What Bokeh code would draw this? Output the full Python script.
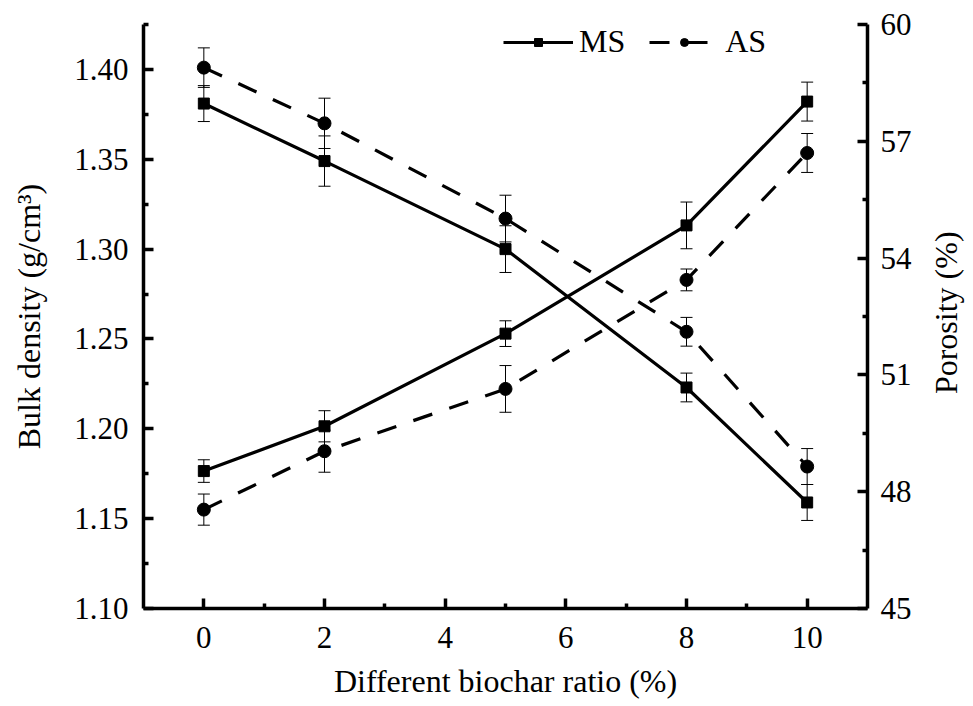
import math
from bokeh.plotting import figure
from bokeh.layouts import row
from bokeh.models import (Range1d, LinearAxis, FixedTicker, PrintfTickFormatter, Whisker,
                          ColumnDataSource, Legend, LegendItem, TeeHead, Label)
from bokeh.embed import file_html
from bokeh.resources import INLINE

# ---- data ----
ratio = [0, 2, 5, 8, 10]
bd_ms = [1.381, 1.349, 1.300, 1.223, 1.159]
bd_ms_err = [0.010, 0.014, 0.013, 0.008, 0.010]
bd_as = [1.401, 1.370, 1.317, 1.254, 1.179]
bd_as_err = [0.011, 0.014, 0.013, 0.008, 0.010]
por_ms = [48.53, 49.68, 52.06, 54.84, 58.02]
por_ms_err = [0.29, 0.40, 0.33, 0.60, 0.50]
por_as = [47.54, 49.04, 50.64, 53.44, 56.70]
por_as_err = [0.40, 0.54, 0.60, 0.28, 0.50]

x_ticks = [0, 2, 4, 6, 8, 10]
x_minor = [1, 3, 5, 7, 9]
bd_ticks = [1.10, 1.15, 1.20, 1.25, 1.30, 1.35, 1.40]
bd_minor = [1.125, 1.175, 1.225, 1.275, 1.325, 1.375, 1.425]
por_ticks = [45, 48, 51, 54, 57, 60]
por_minor = [46.5, 49.5, 52.5, 55.5, 58.5]

FONT = "Liberation Serif"
TICK_FS = "31px"
LAB_FS = "32px"

MAIN_W = 925
p = figure(width=MAIN_W, height=706, output_backend="svg", toolbar_location=None,
           x_range=Range1d(-1, 11), y_range=Range1d(1.10, 1.425),
           min_border_left=143, min_border_right=MAIN_W - 867, min_border_top=24,
           min_border_bottom=98)
p.extra_y_ranges = {"por": Range1d(45, 60)}
p.xgrid.visible = False
p.ygrid.visible = False
p.outline_line_color = None
p.background_fill_color = "white"
p.border_fill_color = "white"

right = LinearAxis(y_range_name="por")
p.add_layout(right, "right")


def style(ax):
    ax.axis_line_width = 3.5
    ax.axis_line_color = "black"
    ax.major_tick_in = 10
    ax.major_tick_out = 0
    ax.major_tick_line_width = 3.5
    ax.minor_tick_in = 5
    ax.minor_tick_out = 0
    ax.minor_tick_line_width = 3.5
    ax.major_label_text_font = FONT
    ax.major_label_text_font_size = TICK_FS
    ax.major_label_text_color = "black"
    ax.axis_label_text_font = FONT
    ax.axis_label_text_font_size = LAB_FS
    ax.axis_label_text_font_style = "normal"
    ax.axis_label_text_color = "black"


xa = p.xaxis[0]
ya = p.yaxis[0]
for ax in (xa, ya, right):
    style(ax)

xa.ticker = FixedTicker(ticks=x_ticks, minor_ticks=x_minor)
xa.axis_label = "Different biochar ratio (%)"
xa.major_label_standoff = 18
xa.axis_label_standoff = 12
xa.axis_label_text_line_height = 0.9

ya.ticker = FixedTicker(ticks=bd_ticks, minor_ticks=bd_minor)
ya.formatter = PrintfTickFormatter(format="%.2f")
ya.axis_label = "Bulk density (g/cm³)"
ya.major_label_standoff = 15
ya.axis_label_standoff = 24

right.ticker = FixedTicker(ticks=por_ticks, minor_ticks=por_minor)
right.formatter = PrintfTickFormatter(format="%d")
right.major_label_standoff = 13

# ---- error bars ----
def whisker(xs, ys, es, rname=None):
    src = ColumnDataSource(dict(x=xs, lo=[y - e for y, e in zip(ys, es)],
                                hi=[y + e for y, e in zip(ys, es)]))
    kw = dict(base="x", lower="lo", upper="hi", source=src, dimension="height",
              line_color="black", line_width=1,
              lower_head=TeeHead(size=12, line_width=1, line_color="black"),
              upper_head=TeeHead(size=12, line_width=1, line_color="black"))
    if rname:
        kw["y_range_name"] = rname
    p.add_layout(Whisker(**kw))


whisker(ratio, bd_ms, bd_ms_err)
whisker(ratio, bd_as, bd_as_err)
whisker(ratio, por_ms, por_ms_err, "por")
whisker(ratio, por_as, por_as_err, "por")

DASH = "20 18"
LW = 3.2
l_ms = p.line(ratio, bd_ms, line_width=LW, line_color="black")
s_ms = p.scatter(ratio, bd_ms, marker="square", size=11, color="black")
l_as = p.line(ratio, bd_as, line_width=LW, line_color="black", line_dash=DASH)
s_as = p.scatter(ratio, bd_as, marker="circle", size=13, color="black")

p.line(ratio, por_ms, line_width=LW, line_color="black", y_range_name="por")
p.scatter(ratio, por_ms, marker="square", size=11, color="black", y_range_name="por")
p.line(ratio, por_as, line_width=LW, line_color="black", line_dash=DASH, y_range_name="por")
p.scatter(ratio, por_as, marker="circle", size=13, color="black", y_range_name="por")

legend = Legend(items=[LegendItem(label="MS", renderers=[l_ms, s_ms]),
                       LegendItem(label="AS", renderers=[l_as, s_as])],
                orientation="horizontal", location=(360, 548),
                border_line_color=None, background_fill_alpha=0,
                padding=0, margin=0, spacing=24, glyph_width=70, glyph_height=20,
                label_standoff=6, label_text_font=FONT, label_text_font_size=LAB_FS,
                label_text_color="black")
p.add_layout(legend)

# ---- narrow strip on the right carrying the Porosity title (reads bottom-to-top) ----
SIDE_W = 973 - MAIN_W
side = figure(width=SIDE_W, height=706, output_backend="svg", toolbar_location=None,
              x_range=Range1d(0, SIDE_W), y_range=Range1d(0, 706),
              x_axis_location=None, y_axis_location=None,
              min_border=0, min_border_left=0, min_border_right=0,
              min_border_top=0, min_border_bottom=0)
side.xgrid.visible = False
side.ygrid.visible = False
side.outline_line_color = None
side.background_fill_color = "white"
side.border_fill_color = "white"
side.add_layout(Label(x=945.5 - MAIN_W, y=357.5, text="Porosity (%)",
                      angle=math.pi / 2, text_align="center", text_baseline="middle",
                      text_font=FONT, text_font_size=LAB_FS, text_color="black"))

layout = row(p, side, spacing=0)
open("out.html", "w").write(file_html(layout, INLINE))
